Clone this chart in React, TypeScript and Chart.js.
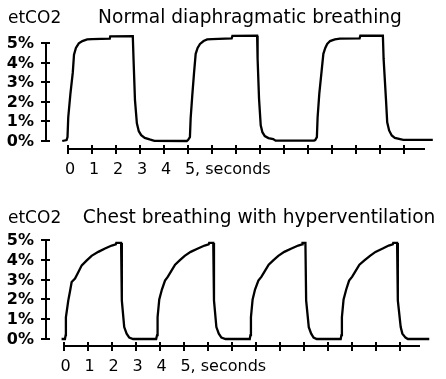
import React, { useEffect, useRef } from "react";
import { Chart, registerables } from "chart.js";

Chart.register(...registerables);

// ---- data (time in seconds, etCO2 in %) ----
const NORMAL_TIME = [
  -0.24, -0.06, -0.02, 0.01, 0.1, 0.2, 0.25, 0.33, 0.45, 0.6, 0.8, 1.0, 1.74, 1.76, 2.7, 2.73, 2.79, 2.87, 2.95, 3.05, 3.2, 3.4, 3.6, 4.95,
  5.0, 5.08, 5.11, 5.18, 5.25, 5.32, 5.4, 5.5, 5.65, 5.8, 6.0, 6.82, 6.85, 7.88, 7.9, 7.96, 8.03, 8.1, 8.2, 8.35, 8.55, 8.65, 10.25,
  10.3, 10.37, 10.4, 10.47, 10.57, 10.64, 10.72, 10.8, 10.92, 11.12, 11.33, 12.15, 12.18, 13.12, 13.15, 13.25, 13.3, 13.38, 13.49, 13.62, 13.97, 15.2,
];
const NORMAL_CO2 = [
  0, 0.05, 0.2, 1.2, 2.4, 3.5, 4.4, 4.75, 4.98, 5.1, 5.18, 5.2, 5.22, 5.34, 5.35, 4.2, 2.1, 0.9, 0.5, 0.3, 0.16, 0.08, 0.01, 0.0,
  0.05, 0.2, 1.15, 2.35, 3.45, 4.45, 4.75, 4.95, 5.1, 5.18, 5.2, 5.24, 5.36, 5.37, 4.2, 2.15, 0.8, 0.45, 0.25, 0.15, 0.1, 0.02, 0.02,
  0.05, 0.2, 1.2, 2.4, 3.6, 4.45, 4.75, 4.95, 5.1, 5.18, 5.22, 5.24, 5.37, 5.38, 4.2, 2.1, 0.95, 0.54, 0.28, 0.16, 0.06, 0.06,
];

const CHEST_TIME = [
  -0.08, 0.06, 0.09, 0.1, 0.2, 0.27, 0.34, 0.48, 0.62, 0.76, 0.97, 1.17, 1.45, 1.73, 2.01, 2.18, 2.2, 2.4, 2.43, 2.53, 2.63, 2.74, 2.9, 3.86,
  3.9, 3.92, 3.99, 4.1, 4.23, 4.35, 4.5, 4.65, 4.85, 5.05, 5.3, 5.6, 5.88, 6.05, 6.07, 6.24, 6.27, 6.37, 6.47, 6.58, 6.75, 7.76,
  7.79, 7.81, 7.88, 7.98, 8.12, 8.25, 8.4, 8.55, 8.75, 8.95, 9.2, 9.5, 9.78, 9.94, 9.96, 10.08, 10.11, 10.22, 10.32, 10.42, 10.55, 11.55,
  11.58, 11.6, 11.67, 11.78, 11.9, 12.03, 12.18, 12.33, 12.55, 12.77, 13.0, 13.3, 13.55, 13.72, 13.74, 13.9, 13.93, 14.05, 14.12, 14.25, 14.35, 15.24,
];
const CHEST_CO2 = [
  0, 0, 0.2, 1.1, 1.95, 2.4, 2.88, 3.05, 3.38, 3.72, 3.97, 4.2, 4.4, 4.57, 4.72, 4.78, 4.85, 4.85, 1.95, 0.6, 0.27, 0.07, 0, 0,
  0.2, 1.1, 2.0, 2.5, 2.95, 3.15, 3.45, 3.75, 3.98, 4.2, 4.4, 4.57, 4.72, 4.78, 4.85, 4.85, 1.95, 0.6, 0.27, 0.07, 0, 0,
  0.2, 1.1, 2.0, 2.5, 2.95, 3.15, 3.45, 3.75, 3.98, 4.2, 4.4, 4.57, 4.72, 4.78, 4.85, 4.85, 1.95, 0.6, 0.27, 0.07, 0, 0,
  0.2, 1.1, 2.0, 2.5, 2.95, 3.15, 3.45, 3.75, 3.98, 4.2, 4.4, 4.57, 4.72, 4.78, 4.85, 4.85, 1.95, 0.6, 0.27, 0.07, 0, 0,
];

const Y_VALUES = [0, 1, 2, 3, 4, 5];
const Y_LABELS = ["0%", "1%", "2%", "3%", "4%", "5%"];
const X_TICK_VALUES = [0, 1, 2, 3, 4, 5, 6, 7, 8, 9, 10, 11, 12, 13, 14];
const X_LABELS = ["0", "1", "2", "3", "4", "5, seconds"];
const X_AXIS_END = 14.87;
const Y_UNIT = "etCO2";
const TITLE_NORMAL = "Normal diaphragmatic breathing";
const TITLE_CHEST = "Chest breathing with hyperventilation";

const FONT = "'DejaVu Sans', Verdana, sans-serif";

const axesPlugin = {
  id: "capnoAxes",
  beforeDatasetsDraw(chart: any, _args: any, opts: any) {
    const { ctx } = chart;
    const xs = chart.scales.x;
    const ys = chart.scales.y;
    ctx.save();
    ctx.strokeStyle = "#000";
    ctx.fillStyle = "#000";
    ctx.lineWidth = 2;
    ctx.lineCap = "butt";

    // titles
    ctx.textBaseline = "alphabetic";
    ctx.font = `17px ${FONT}`;
    ctx.textAlign = "left";
    ctx.fillText(opts.unit, 8, opts.titleBaseline);
    ctx.font = `18.6px ${FONT}`;
    ctx.textAlign = "center";
    ctx.fillText(opts.title, opts.titleCenter, opts.titleBaseline);

    // y axis
    const ax = opts.yAxisX;
    const yTop = Math.round(ys.getPixelForValue(Y_VALUES[Y_VALUES.length - 1]));
    const yBot = Math.round(ys.getPixelForValue(Y_VALUES[0]));
    ctx.beginPath();
    ctx.moveTo(ax, yTop - 1);
    ctx.lineTo(ax, yBot + 1);
    ctx.stroke();
    ctx.font = `bold 16px ${FONT}`;
    ctx.textAlign = "right";
    ctx.textBaseline = "middle";
    Y_VALUES.forEach((v, i) => {
      const py = Math.round(ys.getPixelForValue(v));
      ctx.beginPath();
      ctx.moveTo(ax - 5, py);
      ctx.lineTo(ax + 4, py);
      ctx.stroke();
      ctx.fillText(Y_LABELS[i], 34, py + 1);
    });

    // x axis
    const ay = yBot + opts.xAxisGap;
    const x0 = Math.round(xs.getPixelForValue(X_TICK_VALUES[0]));
    ctx.beginPath();
    ctx.moveTo(x0 - 1, ay);
    ctx.lineTo(Math.round(xs.getPixelForValue(X_AXIS_END)), ay);
    ctx.stroke();
    X_TICK_VALUES.forEach((v) => {
      const px = Math.round(xs.getPixelForValue(v));
      ctx.beginPath();
      ctx.moveTo(px, ay - 4);
      ctx.lineTo(px, ay + 5);
      ctx.stroke();
    });
    ctx.font = `16px ${FONT}`;
    ctx.textBaseline = "alphabetic";
    X_LABELS.forEach((lab, i) => {
      const px = xs.getPixelForValue(X_TICK_VALUES[i]) + 2;
      if (lab.length > 1) {
        const w = ctx.measureText(lab.charAt(0)).width;
        ctx.textAlign = "left";
        ctx.fillText(lab, px - w / 2, ay + 25);
      } else {
        ctx.textAlign = "center";
        ctx.fillText(lab, px, ay + 25);
      }
    });
    ctx.restore();
  },
};

type PanelProps = {
  top: number;
  height: number;
  times: number[];
  values: number[];
  xMin: number;
  xMax: number;
  padding: { left: number; right: number; top: number; bottom: number };
  title: string;
  titleCenter: number;
  titleBaseline: number;
  xAxisGap: number;
};

function Panel(p: PanelProps) {
  const ref = useRef<HTMLCanvasElement | null>(null);
  useEffect(() => {
    if (!ref.current) return;
    const data = p.times.map((t, i) => ({ x: t, y: p.values[i] }));
    const chart = new Chart(ref.current, {
      type: "line",
      data: {
        datasets: [
          {
            data,
            borderColor: "#000",
            borderWidth: 2.3,
            pointRadius: 0,
            tension: 0,
            fill: false,
            clip: false as any,
          },
        ],
      },
      options: {
        responsive: false,
        animation: false,
        devicePixelRatio: 1,
        layout: { padding: p.padding },
        plugins: {
          legend: { display: false },
          tooltip: { enabled: false },
          capnoAxes: {
            unit: Y_UNIT,
            title: p.title,
            titleCenter: p.titleCenter,
            titleBaseline: p.titleBaseline,
            yAxisX: 46,
            xAxisGap: p.xAxisGap,
          },
        } as any,
        scales: {
          x: { type: "linear", min: p.xMin, max: p.xMax, display: false },
          y: { type: "linear", min: 0, max: 5, display: false },
        },
      },
      plugins: [axesPlugin],
    });
    return () => chart.destroy();
  }, []);
  return (
    <canvas
      ref={ref}
      width={446}
      height={p.height}
      style={{ position: "absolute", left: 0, top: p.top, width: 446, height: p.height, display: "block" }}
    />
  );
}

export default function App() {
  return (
    <div style={{ position: "absolute", left: 0, top: 0, width: 446, height: 379, background: "#fff" }}>
      <Panel
        top={0}
        height={190}
        times={NORMAL_TIME}
        values={NORMAL_CO2}
        xMin={-0.25}
        xMax={15.25}
        padding={{ left: 62, right: 12, top: 43, bottom: 49 }}
        title={TITLE_NORMAL}
        titleCenter={250}
        titleBaseline={23}
        xAxisGap={8}
      />
      <Panel
        top={190}
        height={189}
        times={CHEST_TIME}
        values={CHEST_CO2}
        xMin={-0.1}
        xMax={15.3}
        padding={{ left: 61.1, right: 15.3, top: 50, bottom: 40 }}
        title={TITLE_CHEST}
        titleCenter={259}
        titleBaseline={33}
        xAxisGap={7}
      />
    </div>
  );
}
